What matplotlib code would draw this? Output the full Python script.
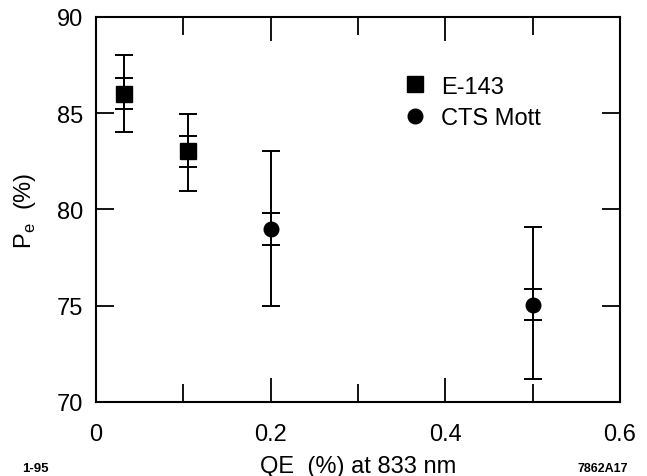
#!/usr/bin/env python3

import matplotlib
matplotlib.use("Agg")
import matplotlib.pyplot as plt
from matplotlib.ticker import MultipleLocator

# E-143 points (squares)
e143_qe = [0.032, 0.105]
e143_pol = [86.0, 83.05]
e143_inner_lo = [85.22, 82.22]
e143_inner_hi = [86.83, 83.83]
e143_outer_lo = [84.03, 80.95]
e143_outer_hi = [88.03, 84.96]

# CTS Mott points (circles)
mott_qe = [0.2, 0.5]
mott_pol = [79.0, 75.05]
mott_inner_lo = [78.16, 74.27]
mott_inner_hi = [79.82, 75.87]
mott_outer_lo = [75.0, 71.19]
mott_outer_hi = [83.04, 79.09]

plt.rcParams['font.family'] = ['Liberation Sans', 'DejaVu Sans']


def err(y, lo, hi):
    return [[a - b for a, b in zip(y, lo)], [b - a for a, b in zip(y, hi)]]


def main():
    fig = plt.figure(figsize=(6.47, 4.77), dpi=100)
    ax = fig.add_axes([96 / 647, 1 - 403 / 477, 524 / 647, 385 / 477])

    eb = dict(fmt='none', ecolor='black', elinewidth=1.4, capsize=6.8,
              capthick=1.4)
    for x, y, ilo, ihi, olo, ohi in [
        (e143_qe, e143_pol, e143_inner_lo, e143_inner_hi, e143_outer_lo, e143_outer_hi),
        (mott_qe, mott_pol, mott_inner_lo, mott_inner_hi, mott_outer_lo, mott_outer_hi),
    ]:
        ax.errorbar(x, y, yerr=err(y, olo, ohi), **eb)
        ax.errorbar(x, y, yerr=err(y, ilo, ihi), **eb)

    ax.plot(e143_qe, e143_pol, 's', color='black', markersize=12, label='E-143')
    ax.plot(mott_qe, mott_pol, 'o', color='black', markersize=10.5, label='CTS Mott')

    ax.set_xlim(0, 0.6)
    ax.set_ylim(70, 90)
    ax.xaxis.set_major_locator(MultipleLocator(0.2))
    ax.xaxis.set_minor_locator(MultipleLocator(0.1))
    ax.yaxis.set_major_locator(MultipleLocator(5))
    ax.xaxis.set_major_formatter(plt.FuncFormatter(lambda v, p: '0' if v == 0 else f'{v:.1f}'))

    ax.tick_params(axis='x', which='major', direction='in', top=True,
                   length=17, width=1.3, pad=15, labelsize=17)
    ax.tick_params(axis='x', which='minor', direction='in', top=True,
                   length=13, width=1.3)
    ax.tick_params(axis='y', which='major', direction='in', right=True,
                   length=13, width=1.3, pad=9, labelsize=17)
    for s in ax.spines.values():
        s.set_linewidth(1.5)

    ax.set_xlabel('QE  (%) at 833 nm', fontsize=17, labelpad=7)
    ax.set_ylabel(r'P$_\mathregular{e}$  (%)', fontsize=17, labelpad=14)

    ax.legend(loc='upper left', bbox_to_anchor=(0.587, 0.848), frameon=False,
              fontsize=17, handlelength=1.0, handletextpad=0.6,
              labelspacing=0.42, borderpad=0, borderaxespad=0)

    fig.text(22 / 647, 1 - 469 / 477, '1-95', fontsize=9.5, fontweight='bold',
             va='center', ha='left')
    fig.text(628 / 647, 1 - 469 / 477, '7862A17', fontsize=9, fontweight='bold',
             va='center', ha='right')

    fig.savefig('out.png', dpi=100)


if __name__ == "__main__":
    main()
